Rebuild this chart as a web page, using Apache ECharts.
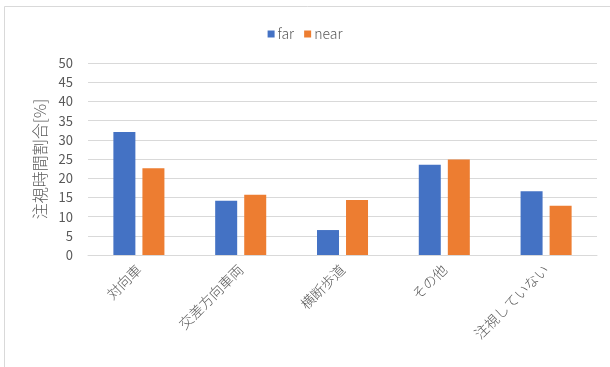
<!DOCTYPE html>
<html>
<head>
<meta charset="utf-8">
<script src="https://cdn.jsdelivr.net/npm/echarts@6/dist/echarts.min.js"></script>
<style>
html,body{margin:0;padding:0;background:#fff;}
#chart{width:610px;height:367px;}
</style>
</head>
<body>
<div id="chart"></div>
<script>
const categories = ['対向車', '交差方向車両', '横断歩道', 'その他', '注視していない'];
const farValues = [32.0, 14.1, 6.5, 23.5, 16.6];
const nearValues = [22.6, 15.7, 14.3, 24.9, 12.8];
const yTicks = { min: 0, max: 50, interval: 5 };
const seriesNames = ['far', 'near'];
const yAxisName = '注視時間割合[%]';

const FONT = "'Noto Sans CJK JP', 'Noto Sans', sans-serif";
const chart = echarts.init(document.getElementById('chart'), null, { renderer: 'canvas' });
chart.setOption({
  animation: false,
  backgroundColor: '#ffffff',
  textStyle: { fontFamily: FONT },
  graphic: [{
    type: 'rect',
    shape: { x: 4.5, y: 6.5, width: 800, height: 600 },
    style: { fill: 'none', stroke: '#d9d9d9', lineWidth: 1 },
    silent: true
  }],
  legend: {
    data: seriesNames,
    top: 22,
    left: 'center',
    itemWidth: 7,
    itemHeight: 7,
    itemGap: 10,
    icon: 'rect',
    textStyle: { color: '#595959', fontSize: 14, fontFamily: FONT, fontWeight: 300, padding: [0, 0, 0, -2] }
  },
  grid: { left: 88, right: 13, top: 63, bottom: 112, containLabel: false },
  xAxis: {
    type: 'category',
    data: categories,
    axisLine: { show: true, lineStyle: { color: '#d9d9d9', width: 1 } },
    axisTick: { show: false },
    axisLabel: { rotate: 45, color: '#595959', fontSize: 14, fontWeight: 300, fontFamily: FONT, margin: 12, interval: 0 }
  },
  yAxis: {
    type: 'value',
    min: yTicks.min,
    max: yTicks.max,
    interval: yTicks.interval,
    name: yAxisName,
    nameLocation: 'middle',
    nameGap: 38,
    nameRotate: 90,
    nameTextStyle: { color: '#595959', fontSize: 16, fontWeight: 300, fontFamily: FONT },
    axisLine: { show: false },
    axisTick: { show: false },
    axisLabel: { color: '#595959', fontSize: 13, fontFamily: FONT, margin: 15 },
    splitLine: { lineStyle: { color: '#d9d9d9', width: 1 } }
  },
  series: [
    { name: seriesNames[0], type: 'bar', data: farValues, barWidth: 22, barGap: '32%', itemStyle: { color: '#4472C4' } },
    { name: seriesNames[1], type: 'bar', data: nearValues, barWidth: 22, barGap: '32%', itemStyle: { color: '#ED7D31' } }
  ]
});
</script>
</body>
</html>
